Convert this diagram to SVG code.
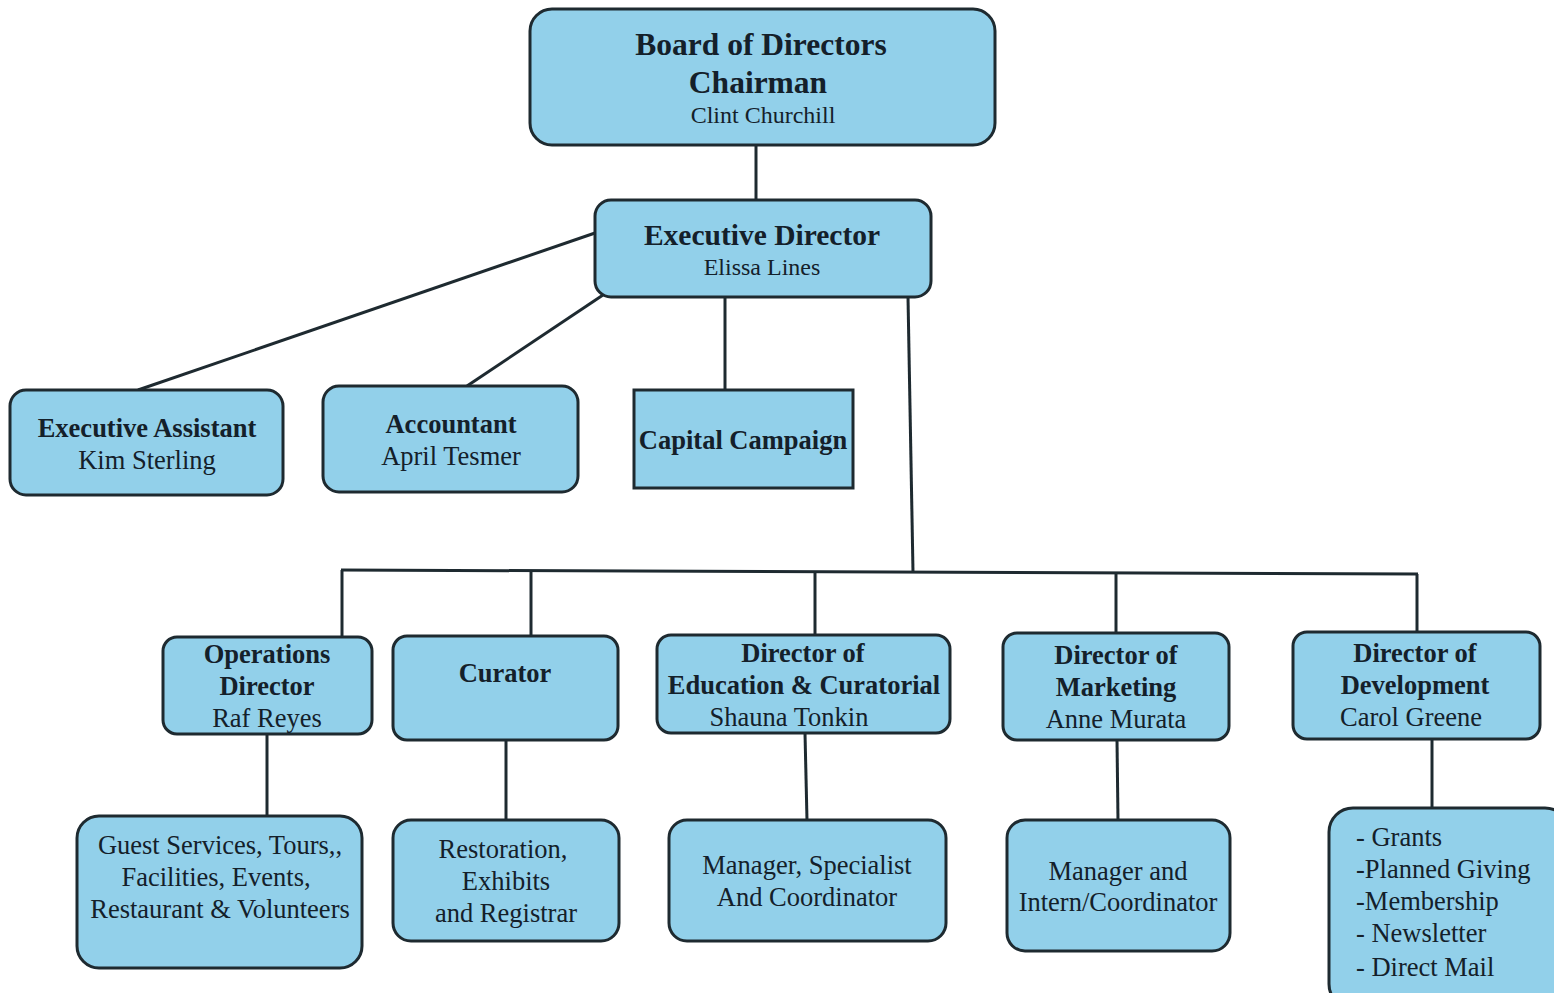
<svg xmlns="http://www.w3.org/2000/svg" width="1554" height="993" viewBox="0 0 1554 993">
<style>
.box{fill:#92d0ea;stroke:#1e2a30;stroke-width:3}
text{font-size:26.5px;fill:#14202a;text-anchor:middle}
.b{font-weight:bold}
.l{text-anchor:start}
.big{font-size:31.5px}
.sm{font-size:24px}
.c line{stroke:#1e2a30;stroke-width:3}
</style>
<rect width="1554" height="993" fill="#ffffff"/>
<g class="c" id="connectors">
<line x1="756" y1="145" x2="756" y2="200"/>
<line x1="595" y1="233" x2="138" y2="390"/>
<line x1="603" y1="295" x2="467" y2="386"/>
<line x1="725" y1="297" x2="725" y2="390"/>
<line x1="908" y1="297" x2="913" y2="572"/>
<line x1="341" y1="570" x2="1418" y2="574"/>
<line x1="342" y1="570" x2="342" y2="637"/>
<line x1="531" y1="571" x2="531" y2="636"/>
<line x1="815" y1="572" x2="815" y2="635"/>
<line x1="1116" y1="573" x2="1116" y2="633"/>
<line x1="1417" y1="574" x2="1417" y2="632"/>
<line x1="267" y1="734" x2="267" y2="816"/>
<line x1="506" y1="740" x2="506" y2="820"/>
<line x1="805" y1="733" x2="807" y2="820"/>
<line x1="1117" y1="740" x2="1118" y2="820"/>
<line x1="1432" y1="739" x2="1432" y2="808"/>
</g>
<g font-family="Liberation Serif, Times New Roman, serif">
<g id="board"><rect class="box" x="530" y="9" width="465" height="136" rx="22"/>
<text class="b big" x="761" y="55">Board of Directors</text>
<text class="b big" x="758" y="93">Chairman</text>
<text class="sm" x="763" y="123">Clint Churchill</text></g>
<g id="exec-director"><rect class="box" x="595" y="200" width="336" height="97" rx="16"/>
<text class="b" x="762" y="245" style="font-size:29.5px">Executive Director</text>
<text class="sm" x="762" y="275">Elissa Lines</text></g>
<g id="exec-assistant"><rect class="box" x="10" y="390" width="273" height="105" rx="16"/>
<text class="b" x="147" y="437">Executive Assistant</text>
<text x="147" y="469">Kim Sterling</text></g>
<g id="accountant"><rect class="box" x="323" y="386" width="255" height="106" rx="16"/>
<text class="b" x="451" y="433">Accountant</text>
<text x="451" y="465">April Tesmer</text></g>
<g id="capital"><rect class="box" x="634" y="390" width="219" height="98"/>
<text class="b" x="743" y="449">Capital Campaign</text></g>
<g id="operations"><rect class="box" x="163" y="637" width="209" height="97" rx="14"/>
<text class="b" x="267" y="663">Operations</text>
<text class="b" x="267" y="695">Director</text>
<text x="267" y="727">Raf Reyes</text></g>
<g id="curator"><rect class="box" x="393" y="636" width="225" height="104" rx="14"/>
<text class="b" x="505" y="682">Curator</text></g>
<g id="education"><rect class="box" x="657" y="635" width="293" height="98" rx="14"/>
<text class="b" x="803" y="662">Director of</text>
<text class="b" x="804" y="694">Education &amp; Curatorial</text>
<text x="789" y="726">Shauna Tonkin</text></g>
<g id="marketing"><rect class="box" x="1003" y="633" width="226" height="107" rx="14"/>
<text class="b" x="1116" y="664">Director of</text>
<text class="b" x="1116" y="696">Marketing</text>
<text x="1116" y="728">Anne Murata</text></g>
<g id="development"><rect class="box" x="1293" y="632" width="247" height="107" rx="14"/>
<text class="b" x="1415" y="662">Director of</text>
<text class="b" x="1415" y="694">Development</text>
<text x="1411" y="726">Carol Greene</text></g>
<g id="guest-services"><rect class="box" x="77" y="816" width="285" height="152" rx="22"/>
<text x="220" y="854">Guest Services, Tours,,</text>
<text x="216" y="886">Facilities, Events,</text>
<text x="220" y="918">Restaurant &amp; Volunteers</text></g>
<g id="restoration"><rect class="box" x="393" y="820" width="226" height="121" rx="18"/>
<text x="503" y="858">Restoration,</text>
<text x="506" y="890">Exhibits</text>
<text x="506" y="922">and Registrar</text></g>
<g id="manager-specialist"><rect class="box" x="669" y="820" width="277" height="121" rx="18"/>
<text x="807" y="874">Manager, Specialist</text>
<text x="807" y="906">And Coordinator</text></g>
<g id="manager-intern"><rect class="box" x="1007" y="820" width="223" height="131" rx="18"/>
<text x="1118" y="880">Manager and</text>
<text x="1118" y="911">Intern/Coordinator</text></g>
<g id="development-list"><rect class="box" x="1329" y="808" width="240" height="200" rx="24"/>
<text class="l" x="1356" y="846">- Grants</text>
<text class="l" x="1356" y="878">-Planned Giving</text>
<text class="l" x="1356" y="910">-Membership</text>
<text class="l" x="1356" y="942">- Newsletter</text>
<text class="l" x="1356" y="976">- Direct Mail</text></g>
</g>
</svg>
